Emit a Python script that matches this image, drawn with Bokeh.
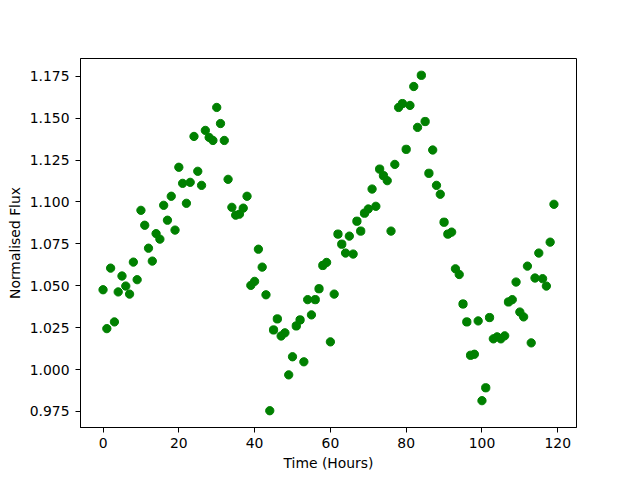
import numpy as np
from bokeh.plotting import figure
from bokeh.models import Range1d, FixedTicker, NumeralTickFormatter
from bokeh.embed import file_html
from bokeh.resources import INLINE

hours = list(range(120))
flux = [
    1.0476, 1.0244, 1.0605, 1.0284, 1.0463, 1.0558, 1.0498, 1.0450, 1.0641, 1.0536,
    1.0950, 1.0861, 1.0724, 1.0647, 1.0811, 1.0778, 1.0980, 1.0891, 1.1034, 1.0832,
    1.1207, 1.1111, 1.0992, 1.1117, 1.1391, 1.1183, 1.1099, 1.1427, 1.1385, 1.1367,
    1.1564, 1.1468, 1.1367, 1.1135, 1.0968, 1.0921, 1.0927, 1.0963, 1.1034, 1.0502,
    1.0526, 1.0718, 1.0611, 1.0446, 0.9754, 1.0236, 1.0302, 1.0200, 1.0219, 0.9968,
    1.0076, 1.0260, 1.0296, 1.0046, 1.0417, 1.0326, 1.0417, 1.0482, 1.0621, 1.0639,
    1.0165, 1.0450, 1.0808, 1.0748, 1.0695, 1.0796, 1.0689, 1.0885, 1.0826, 1.0933,
    1.0958, 1.1077, 1.0974, 1.1196, 1.1157, 1.1127, 1.0826, 1.1224, 1.1564, 1.1587,
    1.1314, 1.1576, 1.1689, 1.1445, 1.1756, 1.1480, 1.1171, 1.1310, 1.1099, 1.1046,
    1.0879, 1.0808, 1.0820, 1.0601, 1.0567, 1.0391, 1.0284, 1.0085, 1.0091, 1.0290,
    0.9814, 0.9891, 1.0310, 1.0183, 1.0195, 1.0183, 1.0201, 1.0403, 1.0417, 1.0522,
    1.0343, 1.0314, 1.0617, 1.0159, 1.0546, 1.0695, 1.0542, 1.0498, 1.0760, 1.0986,
]
x_ticks = [0, 20, 40, 60, 80, 100, 120]
y_ticks = [0.975, 1.000, 1.025, 1.050, 1.075, 1.100, 1.125, 1.150, 1.175]

xmin, xmax = min(hours), max(hours)
ymin, ymax = min(flux), max(flux)
xpad = 0.05 * (xmax - xmin)
ypad = 0.05 * (ymax - ymin)

p = figure(width=640, height=480, output_backend="svg", toolbar_location=None,
           x_range=Range1d(xmin - xpad, xmax + xpad),
           y_range=Range1d(ymin - ypad, ymax + ypad),
           min_border_left=80, min_border_right=64, min_border_top=58, min_border_bottom=53)
p.scatter(hours, flux, size=8.3, color="#008000", line_color="#008000")

p.xgrid.visible = False
p.ygrid.visible = False
p.outline_line_color = "black"
p.outline_line_alpha = 1.0
p.outline_line_width = 1

p.xaxis.ticker = FixedTicker(ticks=x_ticks)
p.yaxis.ticker = FixedTicker(ticks=y_ticks)
p.yaxis.formatter = NumeralTickFormatter(format="0.000")
p.xaxis.axis_label = "Time (Hours)"
p.yaxis.axis_label = "Normalised Flux"
for ax in (p.xaxis, p.yaxis):
    ax.axis_line_color = "black"
    ax.major_tick_line_color = "black"
    ax.major_tick_out = 5
    ax.major_tick_in = 0
    ax.minor_tick_line_color = None
    ax.major_label_text_font = "DejaVu Sans"
    ax.major_label_text_font_size = "13.9px"
    ax.major_label_text_color = "black"
    ax.axis_label_text_font = "DejaVu Sans"
    ax.axis_label_text_font_size = "13.9px"
    ax.axis_label_text_font_style = "normal"
    ax.axis_label_text_color = "black"
p.yaxis.major_label_standoff = 6
p.yaxis.axis_label_standoff = 4
p.xaxis.major_label_standoff = 5
p.xaxis.axis_label_standoff = 4

open("out.html", "w").write(file_html(p, INLINE))
